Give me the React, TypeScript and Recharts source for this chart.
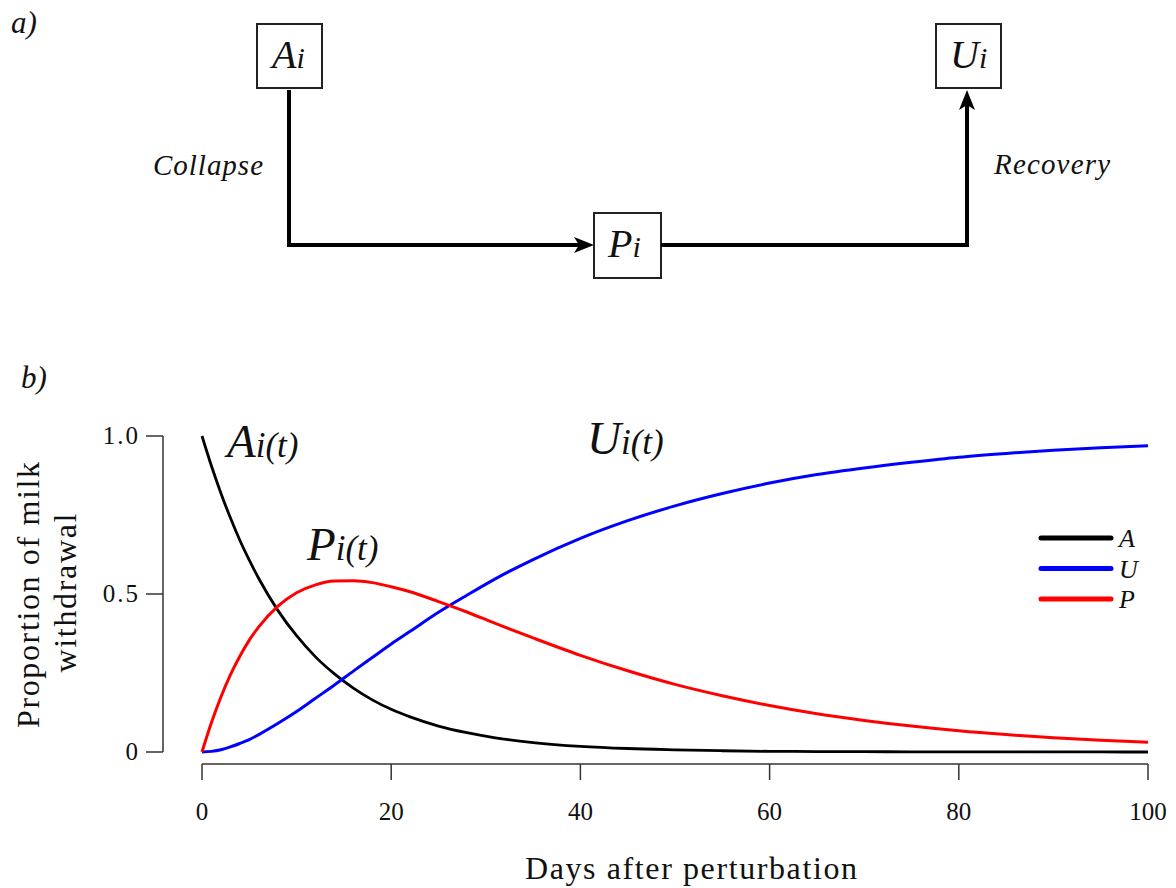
import React from 'react'
import { LineChart, Line, XAxis, YAxis, Legend } from 'recharts'

// values (proportion of milk withdrawal)
const days = [0, 1, 2, 3, 4, 5, 6, 8, 10, 12, 14, 16, 18, 20, 22, 25, 28, 31, 35, 40, 45, 50, 55, 60, 65, 70, 75, 80, 85, 90, 95, 100]
const aValues = [1.0, 0.905, 0.819, 0.741, 0.67, 0.607, 0.549, 0.449, 0.368, 0.301, 0.247, 0.202, 0.165, 0.135, 0.111, 0.082, 0.061, 0.045, 0.03, 0.018, 0.011, 0.007, 0.004, 0.002, 0.0015, 0.001, 0.0006, 0.0003, 0.0002, 0.0001, 0.0001, 0.0]
const pValues = [0, 0.093, 0.174, 0.244, 0.303, 0.354, 0.396, 0.461, 0.504, 0.529, 0.541, 0.542, 0.536, 0.523, 0.507, 0.476, 0.443, 0.407, 0.361, 0.306, 0.257, 0.214, 0.178, 0.147, 0.121, 0.1, 0.082, 0.067, 0.055, 0.045, 0.037, 0.031]
const uValues = [0, 0.002, 0.007, 0.016, 0.027, 0.039, 0.055, 0.09, 0.128, 0.17, 0.212, 0.256, 0.299, 0.342, 0.382, 0.442, 0.496, 0.548, 0.609, 0.676, 0.732, 0.779, 0.818, 0.851, 0.878, 0.899, 0.917, 0.933, 0.945, 0.955, 0.963, 0.969]

const xTicks = [0, 20, 40, 60, 80, 100]
const yTicks = [0, 0.5, 1]
const yTickLabels = ['0', '0.5', '1.0']

const seriesKeys = ['A', 'U', 'P']
const seriesColors = ['#000000', '#0000ff', '#ff0000']

const data = days.map((d, i) => ({ day: d, A: aValues[i], U: uValues[i], P: pValues[i] }))

const SERIF = '"Liberation Serif", "Times New Roman", serif'
const AXIS = '#333'
const PLOT_W = 946
const PLOT_H = 316

const XTick = (props: any) => {
  const { x, payload } = props
  return (
    <g>
      {payload.value === 0 && <line x1={x} x2={x + PLOT_W} y1={364} y2={364} stroke={AXIS} strokeWidth={1.5} />}
      <line x1={x} x2={x} y1={364} y2={380} stroke={AXIS} strokeWidth={1.5} />
      <text x={x} y={420} textAnchor="middle" fontFamily={SERIF} fontSize={25} fill="#111">
        {payload.value}
      </text>
    </g>
  )
}

const YTick = (props: any) => {
  const { y, payload } = props
  const idx = yTicks.indexOf(payload.value)
  return (
    <g>
      {payload.value === 0 && <line x1={163} x2={163} y1={y} y2={y - PLOT_H} stroke={AXIS} strokeWidth={1.5} />}
      <line x1={146} x2={163} y1={y} y2={y} stroke={AXIS} strokeWidth={1.5} />
      <text x={140} y={y + 8} textAnchor="end" fontFamily={SERIF} fontSize={25} letterSpacing={2} fill="#111">
        {yTickLabels[idx]}
      </text>
    </g>
  )
}

const LegendBox = () => (
  <svg width={130} height={90}>
    {seriesKeys.map((k, i) => (
      <g key={k}>
        <line x1={4} x2={74} y1={14 + i * 30.5} y2={14 + i * 30.5} stroke={seriesColors[i]} strokeWidth={5} strokeLinecap="round" />
        <text x={82} y={23 + i * 30.5} fontFamily={SERIF} fontStyle="italic" fontSize={26} fill="#111">{k}</text>
      </g>
    ))}
  </svg>
)

const Sub = ({ x, y, big, small }: { x: number; y: number; big: string; small: string }) => (
  <text x={x} y={y} fontFamily={SERIF} fontStyle="italic" fill="#111">
    <tspan fontSize={47}>{big}</tspan>
    <tspan fontSize={35}>{small}</tspan>
  </text>
)

const BoxLabel = ({ x, y, big }: { x: number; y: number; big: string }) => (
  <text x={x} y={y} fontFamily={SERIF} fontStyle="italic" fill="#111">
    <tspan fontSize={40}>{big}</tspan>
    <tspan fontSize={30}>i</tspan>
  </text>
)

export default function App() {
  return (
    <div style={{ position: 'absolute', left: 0, top: 0, width: 1176, height: 888, background: '#fff' }}>
      <div style={{ position: 'absolute', left: 0, top: 400 }}>
        <LineChart width={1176} height={488} data={data} margin={{ top: 36, right: 28, bottom: 36, left: 82 }}>
          <XAxis type="number" dataKey="day" domain={[0, 100]} ticks={xTicks} axisLine={false} tickLine={false} tick={<XTick />} height={100} />
          <YAxis type="number" domain={[0, 1]} ticks={yTicks} axisLine={false} tickLine={false} tick={<YTick />} width={120} />
          <Legend layout="vertical" align="center" verticalAlign="middle" content={<LegendBox />}
            wrapperStyle={{ position: 'absolute', left: 1037, top: 124, width: 130, height: 90 }} />
          <Line type="monotone" dataKey="A" stroke={seriesColors[0]} strokeWidth={2.8} dot={false} isAnimationActive={false} />
          <Line type="monotone" dataKey="U" stroke={seriesColors[1]} strokeWidth={3} dot={false} isAnimationActive={false} />
          <Line type="monotone" dataKey="P" stroke={seriesColors[2]} strokeWidth={3} dot={false} isAnimationActive={false} />
        </LineChart>
      </div>
      <svg width={1176} height={888} style={{ position: 'absolute', left: 0, top: 0, pointerEvents: 'none' }}>
        {/* panel a: compartment diagram */}
        <text x={11} y={33} fontFamily={SERIF} fontStyle="italic" fontSize={31} fill="#111">a)</text>
        <rect x={257} y={24} width={65} height={64} fill="none" stroke="#222" strokeWidth={2} />
        <rect x={936} y={24} width={65} height={64} fill="none" stroke="#222" strokeWidth={2} />
        <rect x={594} y={213} width={67} height={65} fill="none" stroke="#222" strokeWidth={2} />
        <BoxLabel x={272} y={68} big="A" />
        <BoxLabel x={950} y={68} big="U" />
        <BoxLabel x={608} y={257} big="P" />
        <path d="M289 90 V245 H582" fill="none" stroke="#000" strokeWidth={4} strokeLinejoin="miter" />
        <polygon points="594,245 574,237 579,245 574,253" fill="#000" />
        <path d="M661 245 H967 V102" fill="none" stroke="#000" strokeWidth={4} strokeLinejoin="miter" />
        <polygon points="967,90 959,110 967,105 975,110" fill="#000" />
        <text x={153} y={175} fontFamily={SERIF} fontStyle="italic" fontSize={29} textLength={110} lengthAdjust="spacing" fill="#111">Collapse</text>
        <text x={994} y={174} fontFamily={SERIF} fontStyle="italic" fontSize={29} textLength={116} lengthAdjust="spacing" fill="#111">Recovery</text>

        {/* panel b labels */}
        <text x={21} y={388} fontFamily={SERIF} fontStyle="italic" fontSize={31} fill="#111">b)</text>
        <Sub x={227} y={457} big="A" small="i(t)" />
        <Sub x={587} y={454} big="U" small="i(t)" />
        <Sub x={307} y={560} big="P" small="i(t)" />
        <text transform="translate(39,595) rotate(-90)" textAnchor="middle" fontFamily={SERIF} fontSize={32} textLength={266} lengthAdjust="spacing" fill="#111">Proportion of milk</text>
        <text transform="translate(76,593) rotate(-90)" textAnchor="middle" fontFamily={SERIF} fontSize={32} textLength={159} lengthAdjust="spacing" fill="#111">withdrawal</text>
        <text x={691} y={879} textAnchor="middle" fontFamily={SERIF} fontSize={32} textLength={332} lengthAdjust="spacing" fill="#111">Days after perturbation</text>
      </svg>
    </div>
  )
}
